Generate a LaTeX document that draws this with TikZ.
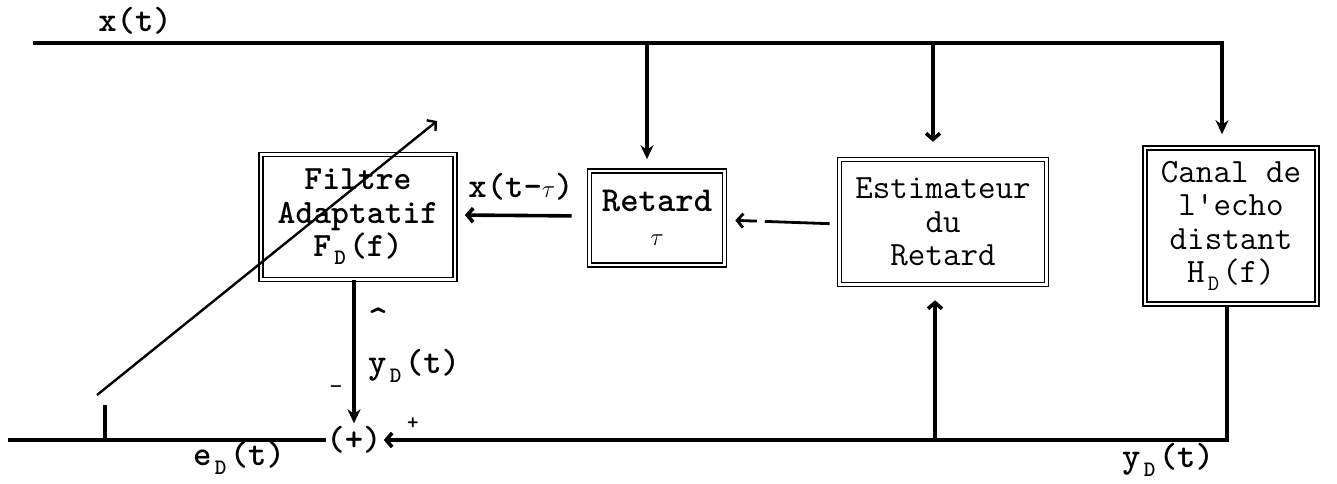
\documentclass[tikz,border=0pt]{standalone}
\usepackage{fontspec}
\usetikzlibrary{arrows.meta}
\newcommand{\lowsub}[1]{\makebox[0.525em]{\raisebox{-0.55ex}{\fontsize{22}{22}\selectfont #1}}}
\begin{document}
\begin{tikzpicture}[x=1pt,y=-1pt]
	\tikzstyle{bloc}=[draw,double,double distance=2.5pt,line width=1.6pt,align=center,inner sep=0pt,font=\ttfamily\fontsize{34}{33.5}\selectfont]
	\tikzstyle{lbl}=[inner sep=0pt,font=\ttfamily\bfseries\fontsize{35}{35}\selectfont]
	\tikzstyle{sig}=[line width=3.6pt]
	\tikzstyle{pl}=[-{Stealth[length=14pt,width=13pt]}]
	\tikzstyle{op}=[-{Straight Barb[length=6pt,width=14pt]}]
	\useasboundingbox (0,0) rectangle (1337,483);
	% blocs
	\node[bloc,font=\ttfamily\bfseries\fontsize{34}{33.5}\selectfont,minimum width=194pt,minimum height=125pt] (b_fil) at (358,217) {Filtre\\Adaptatif\\F\lowsub{D}(f)};
	\node[bloc,font=\ttfamily\bfseries\fontsize{35}{33.5}\selectfont,minimum width=135pt,minimum height=94pt] (b_ret) at (657,218) {Retard\\$\tau$};
	\node[bloc,minimum width=207pt,minimum height=125pt] (b_est) at (943,222) {Estimateur\\du\\Retard};
	\node[bloc,minimum width=172pt,minimum height=156pt] (b_can) at (1231,226) {Canal de\\l'echo\\distant\\H\lowsub{D}(f)};
	\node[lbl] (s_sum) at (354,440) {(+)};
	% labels
	\node[lbl] (l_x) at (135,21) {x(t)};
	\node[lbl] (l_xt) at (521,187) {x(t-$\tau$)};
	\node[lbl,font=\ttfamily\bfseries\fontsize{38}{38}\selectfont] (l_hat) at (378,320) {\textasciicircum};
	\node[lbl,anchor=west] (l_yh) at (368,366) {y\lowsub{D}(t)};
	\node[lbl,font=\ttfamily\fontsize{26}{26}\selectfont] (l_m) at (336,390) {-};
	\node[lbl,font=\ttfamily\bfseries\fontsize{22}{22}\selectfont] (l_p) at (413,424) {+};
	\node[lbl] (l_e) at (239,458) {e\lowsub{D}(t)};
	\node[lbl] (l_y) at (1168,460) {y\lowsub{D}(t)};
	% points
	\coordinate (c_in) at (33,43);
	\coordinate (c_r) at (647,43);
	\coordinate (c_e) at (933,43);
	\coordinate (c_c) at (1222,43);
	\coordinate (c_out) at (8,440);
	\coordinate (c_tick) at (105,405);
	\coordinate (c_y) at (935,440);
	\coordinate (c_a1) at (97,395);
	\coordinate (c_a2) at (437,121);
	% liaisons
	\draw[sig,pl,shorten >=13pt] (c_in) -- (c_c) -- (c_c |- b_can.north);
	\draw[sig,pl,shorten >=11pt] (c_r) -- (c_r |- b_ret.north);
	\draw[sig,op,shorten >=17pt] (c_e) -- (c_e |- b_est.north);
	\draw[sig,op,shorten <=17pt,shorten >=9pt] ([yshift=2pt]b_ret.west) -- ([yshift=2pt]b_fil.east);
	\draw[sig,op,line width=2.8pt,shorten <=9pt,shorten >=10pt,dash pattern=on 65pt off 8pt] ([yshift=-2pt]b_est.west) -- ([yshift=-2pt]b_ret.east);
	\draw[sig,pl,shorten >=3pt] (b_fil.south -| s_sum) -- (s_sum);
	\draw[sig,op,shorten >=2pt] ([xshift=-4pt]b_can.south) |- (s_sum.east);
	\draw[sig,op,shorten >=15pt] (c_y) -- (c_y |- b_est.south);
	\draw[sig] (s_sum.west) -- (c_out);
	\draw[sig] (c_tick) -- (c_tick |- c_out);
	\draw[line width=2.4pt,op] (c_a1) -- (c_a2);
\end{tikzpicture}
\end{document}
